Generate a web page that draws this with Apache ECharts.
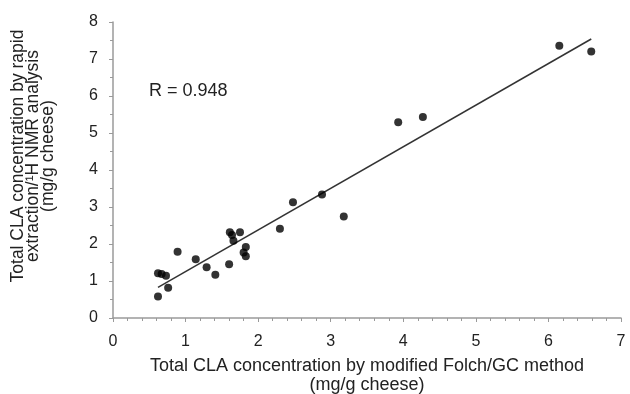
<!DOCTYPE html>
<html>
<head>
<meta charset="utf-8">
<script src="https://cdn.jsdelivr.net/npm/echarts@6/dist/echarts.min.js"></script>
<style>
  html, body { margin: 0; padding: 0; background: #fff; }
  #chart { width: 630px; height: 394px; }
</style>
</head>
<body>
<div id="chart"></div>
<script>
// 数据：GC 法 (x) 与 NMR 法 (y) 的 CLA 浓度
const gcValues = [0.62, 0.62, 0.67, 0.73, 0.76, 0.89, 1.14, 1.29, 1.41, 1.60, 1.61, 1.64, 1.66, 1.75, 1.83, 1.80, 1.83, 2.30, 2.48, 2.88, 3.18, 3.93, 4.27, 6.15, 6.59];
const nmrValues = [0.58, 1.21, 1.19, 1.14, 0.82, 1.79, 1.59, 1.37, 1.17, 1.45, 2.32, 2.24, 2.09, 2.32, 1.92, 1.77, 1.67, 2.41, 3.13, 3.34, 2.74, 5.29, 5.43, 7.36, 7.20];

// 回归线端点
const fitX = [0.62, 6.59];
const fitY = [0.83, 7.54];

const xTicks = [0, 1, 2, 3, 4, 5, 6, 7];
const yTicks = [0, 1, 2, 3, 4, 5, 6, 7, 8];

document.addEventListener('DOMContentLoaded', function() {
    let chart = echarts.init(document.getElementById('chart'));

    const points = gcValues.map((x, i) => [x, nmrValues[i]]);
    const fitLine = fitX.map((x, i) => [x, fitY[i]]);

    const axisGray = '#9a9a9a';
    const font = 'Liberation Sans, Arial, sans-serif';

    chart.setOption({
        animation: false,
        grid: { left: 113, right: 9, top: 22, bottom: 76, containLabel: false, outerBoundsMode: 'none' },
        xAxis: {
            type: 'value',
            min: xTicks[0],
            max: xTicks[xTicks.length - 1],
            interval: 1,
            axisLine: { lineStyle: { color: axisGray, width: 1.5 } },
            axisTick: { length: 4, lineStyle: { color: axisGray } },
            minorTick: { show: true, splitNumber: 5, length: 3, lineStyle: { color: axisGray } },
            splitLine: { show: false },
            axisLabel: { fontSize: 16, color: '#222', fontFamily: font, margin: 16 },
            name: 'Total CLA concentration by modified Folch/GC method\n(mg/g cheese)',
            nameLocation: 'middle',
            nameGap: 39,
            nameTextStyle: { fontSize: 18, color: '#222', fontFamily: font, lineHeight: 19, verticalAlign: 'top' }
        },
        yAxis: {
            type: 'value',
            min: yTicks[0],
            max: yTicks[yTicks.length - 1],
            interval: 1,
            axisLine: { show: true, lineStyle: { color: axisGray, width: 1.5 } },
            axisTick: { show: true, length: 4, lineStyle: { color: axisGray } },
            minorTick: { show: true, splitNumber: 2, length: 3, lineStyle: { color: axisGray } },
            splitLine: { show: false },
            axisLabel: { fontSize: 16, color: '#222', fontFamily: font, margin: 15 }
        },
        graphic: [
            {
                type: 'text',
                x: 33,
                y: 156,
                rotation: Math.PI / 2,
                style: {
                    text: 'Total CLA concentration by rapid\nextraction/\u00b9H NMR analysis\n(mg/g cheese)',
                    font: '17.5px ' + font,
                    fill: '#222',
                    align: 'center',
                    verticalAlign: 'middle',
                    lineHeight: 15
                }
            },
            {
                type: 'text',
                left: 149,
                top: 82,
                style: {
                    text: 'R = 0.948',
                    font: '18px ' + font,
                    fill: '#222'
                }
            }
        ],
        series: [
            {
                type: 'line',
                data: fitLine,
                symbol: 'none',
                lineStyle: { color: '#333', width: 1.5 },
                z: 1
            },
            {
                type: 'scatter',
                data: points,
                symbolSize: 8,
                itemStyle: { color: '#000' },
                z: 2
            }
        ]
    });
});
</script>
</body>
</html>
